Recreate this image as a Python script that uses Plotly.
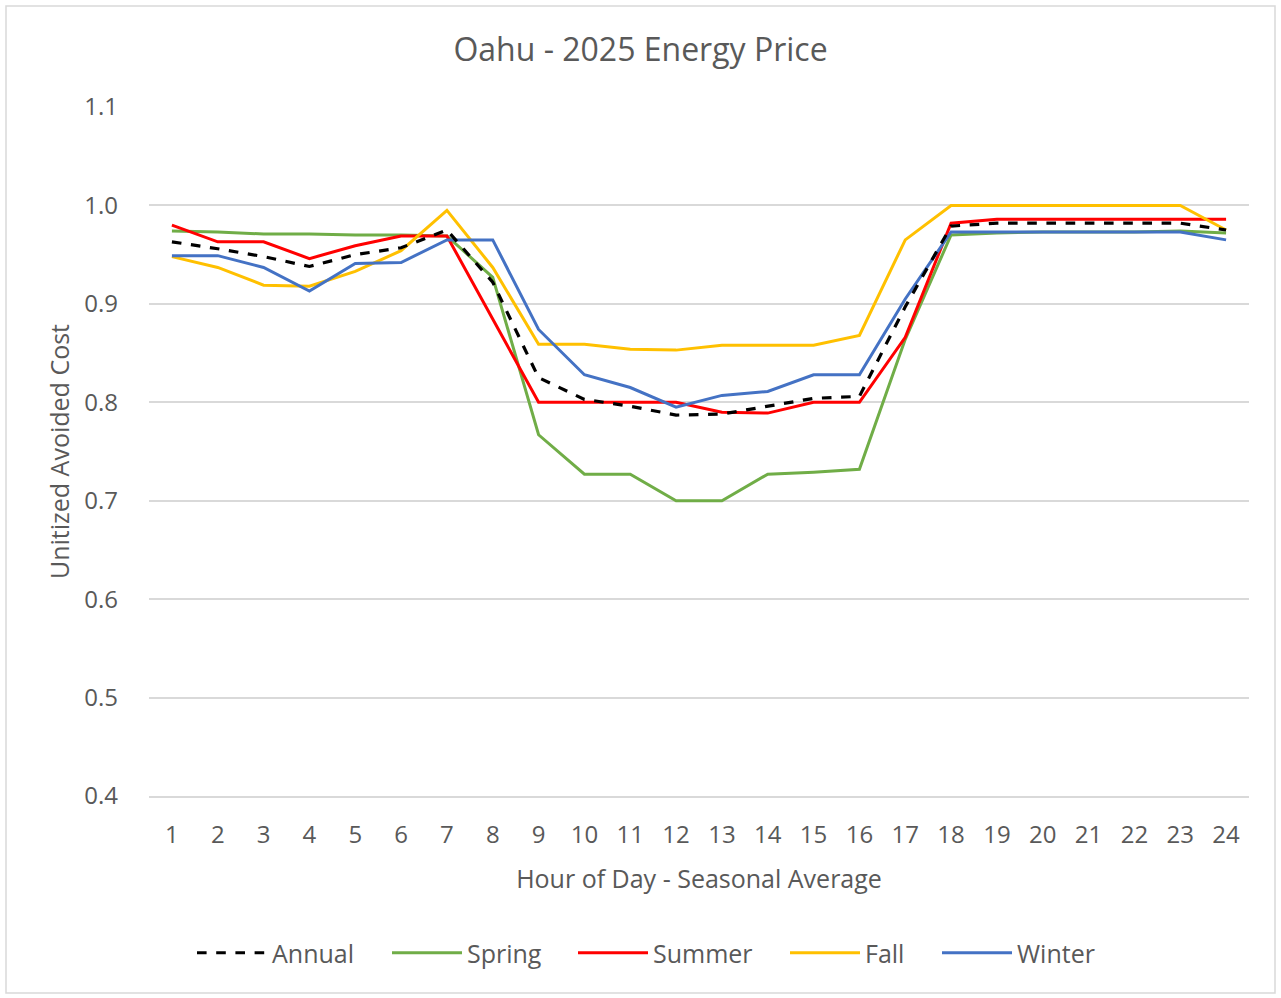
import plotly.graph_objects as go

hours = list(range(1, 25))

annual = [0.963, 0.956, 0.948, 0.938, 0.950, 0.957, 0.975, 0.922, 0.825, 0.803, 0.796, 0.787,
          0.788, 0.796, 0.804, 0.806, 0.897, 0.979, 0.982, 0.982, 0.982, 0.982, 0.982, 0.975]
spring = [0.974, 0.973, 0.971, 0.971, 0.970, 0.970, 0.969, 0.927, 0.767, 0.727, 0.727, 0.700,
          0.700, 0.727, 0.729, 0.732, 0.864, 0.970, 0.972, 0.973, 0.973, 0.973, 0.974, 0.972]
summer = [0.980, 0.963, 0.963, 0.946, 0.959, 0.969, 0.969, 0.885, 0.800, 0.800, 0.800, 0.800,
          0.790, 0.789, 0.800, 0.800, 0.866, 0.982, 0.986, 0.986, 0.986, 0.986, 0.986, 0.986]
fall = [0.948, 0.937, 0.919, 0.918, 0.933, 0.954, 0.995, 0.937, 0.859, 0.859, 0.854, 0.853,
        0.858, 0.858, 0.858, 0.868, 0.965, 1.000, 1.000, 1.000, 1.000, 1.000, 1.000, 0.975]
winter = [0.949, 0.949, 0.937, 0.913, 0.941, 0.942, 0.965, 0.965, 0.874, 0.828, 0.815, 0.795,
          0.807, 0.811, 0.828, 0.828, 0.905, 0.973, 0.973, 0.973, 0.973, 0.973, 0.973, 0.965]

# (name, values, colour, dash, legend id, legend left edge in px)
series = [
    ("Spring", spring, "#70AD47", "solid", "legend2", 387),
    ("Summer", summer, "#FF0000", "solid", "legend3", 573),
    ("Fall", fall, "#FFC000", "solid", "legend4", 785),
    ("Winter", winter, "#4472C4", "solid", "legend5", 937),
    ("Annual", annual, "#000000", "dash", "legend", 192),
]

FONT = "Open Sans"
GREY = "#595959"
PLOT_L, PLOT_R, PLOT_T, PLOT_B = 149, 1249, 107, 796
PW, PH = PLOT_R - PLOT_L, PLOT_B - PLOT_T


def px_x(px):
    return (px - PLOT_L) / PW


def px_y(py):
    return (PLOT_B - py) / PH


fig = go.Figure()
legends = {}
for name, vals, color, dash, leg, left in series:
    fig.add_trace(go.Scatter(
        x=hours, y=vals, name=name, mode="lines",
        line=dict(color=color, width=3.2 if dash == "dash" else 3, dash=dash),
        legend=leg,
    ))
    legends[leg] = dict(orientation="h", x=px_x(left), xanchor="left",
                        y=px_y(953), yanchor="middle",
                        font=dict(family=FONT, size=25, color=GREY),
                        itemwidth=70, bgcolor="rgba(0,0,0,0)")

fig.update_layout(
    width=1281, height=998,
    margin=dict(l=PLOT_L, r=1281 - PLOT_R, t=PLOT_T, b=998 - PLOT_B),
    paper_bgcolor="white", plot_bgcolor="white",
    font=dict(family=FONT, color=GREY, size=24),
    title=dict(text="Oahu - 2025 Energy Price", x=0.5, xanchor="center",
               y=1 - 50 / 998, yanchor="middle",
               font=dict(family=FONT, size=32, color=GREY)),
    showlegend=True,
    xaxis=dict(
        tickmode="array", tickvals=hours, ticktext=[str(h) for h in hours],
        range=[0.5, 24.5], showgrid=False, zeroline=False,
        showline=True, linecolor="#d9d9d9", linewidth=1.5,
        ticks="", ticklabelstandoff=16, tickfont=dict(size=24),
        title=dict(text="Hour of Day - Seasonal Average", standoff=22,
                   font=dict(size=25, color=GREY)),
    ),
    yaxis=dict(
        range=[0.4, 1.1], tickvals=[0.4, 0.5, 0.6, 0.7, 0.8, 0.9, 1.0, 1.1],
        ticktext=["0.4", "0.5", "0.6", "0.7", "0.8", "0.9", "1.0", "1.1"],
        showgrid=True, gridcolor="#d9d9d9", gridwidth=1.5, zeroline=False,
        showline=False, ticks="", ticklabelstandoff=30, tickfont=dict(size=24),
        title=dict(text="Unitized Avoided Cost", standoff=7,
                   font=dict(size=25, color=GREY)),
    ),
    shapes=[dict(type="rect", xref="paper", yref="paper",
                 x0=px_x(6), x1=px_x(1275), y0=px_y(993), y1=px_y(6),
                 line=dict(color="#d9d9d9", width=1.5), layer="below")],
    **legends,
)

fig.write_html("out.html")
